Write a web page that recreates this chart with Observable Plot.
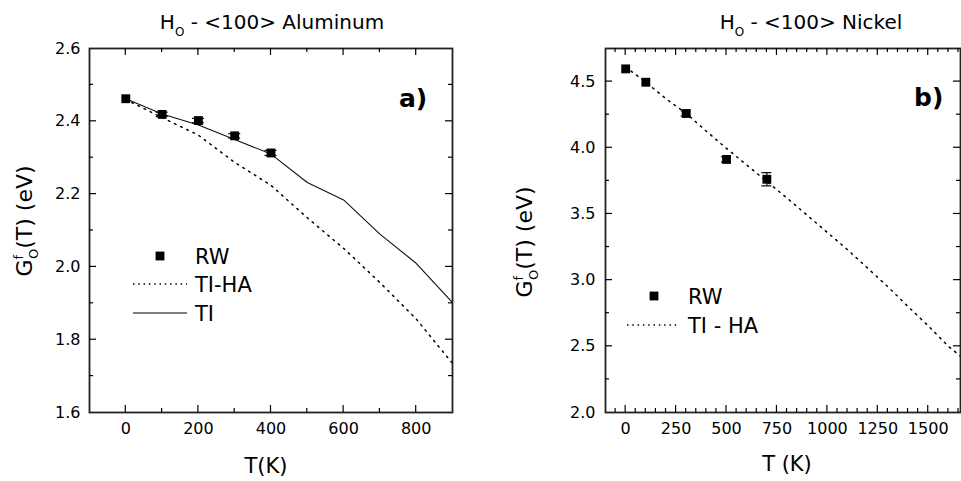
<!DOCTYPE html>
<html><head><meta charset="utf-8">
<script src="https://cdn.jsdelivr.net/npm/d3@7"></script>
<script src="https://cdn.jsdelivr.net/npm/@observablehq/plot@0.6"></script>
<style>
body{margin:0;background:#fff;width:961px;height:481px;overflow:hidden;position:relative;font-family:"DejaVu Sans",sans-serif}
#a,#b{position:absolute;top:0}
#a{left:0}#b{left:480px}
svg{display:block}
</style></head><body>
<div id="a"></div><div id="b"></div>
<script>
// ---- Panel a) Aluminum ----
const alT = [0, 100, 200, 300, 400];
const alRW = [2.462, 2.419, 2.402, 2.360, 2.313];
const alRWerr = [0, 0.006, 0.006, 0.006, 0.007];
const alCurveT = [0, 100, 200, 300, 400, 500, 600, 700, 800, 900];
const alTI = [2.462, 2.42, 2.39, 2.35, 2.31, 2.232, 2.184, 2.090, 2.010, 1.902];
const alTIHA = [2.46, 2.41, 2.362, 2.287, 2.224, 2.135, 2.051, 1.957, 1.857, 1.735];
const alXLabels = [0, 200, 400, 600, 800];
const alXMinor = [100, 300, 500, 700];
const alYLabels = [1.6, 1.8, 2.0, 2.2, 2.4, 2.6];
const alYMinor = [1.7, 1.9, 2.1, 2.3, 2.5];

// ---- Panel b) Nickel ----
const niT = [0, 100, 300, 500, 700];
const niRW = [4.596, 4.495, 4.259, 3.912, 3.762];
const niRWerr = [0, 0, 0.02, 0.02, 0.05];
const niCurveT = [0, 100, 200, 300, 400, 500, 600, 700, 800, 900, 1000, 1100, 1200, 1300, 1400, 1500, 1600, 1660];
const niTIHA = [4.61, 4.495, 4.37, 4.26, 4.125, 3.995, 3.87, 3.745, 3.62, 3.49, 3.36, 3.23, 3.09, 2.95, 2.80, 2.655, 2.50, 2.425];
const niXLabels = [0, 250, 500, 750, 1000, 1250, 1500];
const niXMinor = [-50, 50, 100, 150, 200, 300, 350, 400, 450, 550, 600, 650, 700, 800, 850, 900, 950, 1050, 1100, 1150, 1200, 1300, 1350, 1400, 1450, 1550, 1600, 1650];
const niYLabels = [2.0, 2.5, 3.0, 3.5, 4.0, 4.5];
const niYMinor = [2.25, 2.75, 3.25, 3.75, 4.25];

const DOT = "1.6,5.2";

function errMarks(data, capHalf) {
  const withErr = data.filter(d => d.e > 0);
  return [
    Plot.ruleX(withErr, {x: "T", y1: d => d.G - d.e, y2: d => d.G + d.e, stroke: "#000", strokeWidth: 1.2}),
    Plot.ruleY(withErr, {x1: "T", x2: "T", y: d => d.G + d.e, insetLeft: -capHalf, insetRight: -capHalf, stroke: "#000", strokeWidth: 1.2}),
    Plot.ruleY(withErr, {x1: "T", x2: "T", y: d => d.G - d.e, insetLeft: -capHalf, insetRight: -capHalf, stroke: "#000", strokeWidth: 1.2}),
    Plot.dot(data, {x: "T", y: "G", symbol: "square", r: 5.0, fill: "#000", stroke: null})
  ];
}

// inward ticks on all four sides, placed with the plot's own scales
function drawTicks(plot, xMaj, xMin, yMaj, yMin) {
  const sx = plot.scale("x"), sy = plot.scale("y");
  const [L, R] = sx.range, [B, T] = sy.range;
  const g = d3.select(plot).append("g").attr("stroke", "#000").attr("stroke-width", 1.2);
  const M = 7, m = 4;
  const xs = xMaj.map(v => [v, M]).concat(xMin.map(v => [v, m]));
  const ys = yMaj.map(v => [v, M]).concat(yMin.map(v => [v, m]));
  xs.forEach(([v, l]) => {
    const x = sx.apply(v);
    g.append("line").attr("x1", x).attr("x2", x).attr("y1", B).attr("y2", B - l);
    g.append("line").attr("x1", x).attr("x2", x).attr("y1", T).attr("y2", T + l);
  });
  ys.forEach(([v, l]) => {
    const y = sy.apply(v);
    g.append("line").attr("y1", y).attr("y2", y).attr("x1", L).attr("x2", L + l);
    g.append("line").attr("y1", y).attr("y2", y).attr("x1", R).attr("x2", R - l);
  });
}

function decorate(svg, o) {
  const g = d3.select(svg).append("g").attr("fill", "#000")
    .style("font-family", "'DejaVu Sans', sans-serif");
  // title
  const t = g.append("text").attr("x", o.titleX).attr("y", 29).attr("text-anchor", "middle").attr("font-size", 20);
  t.append("tspan").text("H");
  t.append("tspan").attr("dy", 7).attr("font-size", 12).text("O");
  t.append("tspan").attr("dy", -7).text(o.titleRest);
  // y label
  const yl = g.append("text").attr("transform", `translate(${o.ylX},${o.ylY}) rotate(-90)`)
    .attr("text-anchor", "middle").attr("font-size", 22);
  yl.append("tspan").text("G");
  yl.append("tspan").attr("dy", -9).attr("font-size", 13).text("f");
  yl.append("tspan").attr("dx", -4).attr("dy", 15).attr("font-size", 13).text("O");
  yl.append("tspan").attr("dy", -6).text("(T) (eV)");
  // x label
  g.append("text").attr("x", o.xlX).attr("y", o.xlY).attr("text-anchor", "middle").attr("font-size", 21).text(o.xLabel);
  // panel letter
  g.append("text").attr("x", o.letX).attr("y", o.letY).attr("text-anchor", "start")
    .attr("font-size", 25).attr("font-weight", "bold").text(o.letter);
  // legend
  o.legend.forEach(it => {
    if (it.kind === "square") {
      g.append("rect").attr("x", it.sx - 4.4).attr("y", it.y - 4.4).attr("width", 8.8).attr("height", 8.8);
    } else {
      g.append("line").attr("x1", it.x1).attr("x2", it.x2).attr("y1", it.y).attr("y2", it.y)
        .attr("stroke", "#000").attr("stroke-width", it.kind === "dot" ? 1.5 : 1.2)
        .attr("stroke-dasharray", it.kind === "dot" ? "1.5,3.8" : null);
    }
    g.append("text").attr("x", it.tx).attr("y", it.y + 7.8).attr("text-anchor", "start")
      .attr("font-size", 21).text(it.label);
  });
}

const common = {
  style: {fontFamily: "'DejaVu Sans', sans-serif", fontSize: "16px", color: "#000", background: "#fff"}
};

// Panel a
const fa = alT.map((t, i) => ({T: t, G: alRW[i], e: alRWerr[i]}));
const ca = alCurveT.map((t, i) => ({T: t, ti: alTI[i], ha: alTIHA[i]}));
const plotA = Plot.plot({
  ...common,
  width: 480, height: 481,
  marginLeft: 89, marginRight: 28, marginTop: 48, marginBottom: 69,
  x: {domain: [-100, 900]},
  y: {domain: [1.6, 2.6]},
  marks: [
    Plot.axisX({ticks: alXLabels, tickSize: 0, tickPadding: 10, label: null, tickFormat: d3.format("d"), fontSize: 16}),
    Plot.axisY({ticks: alYLabels, tickSize: 0, tickPadding: 9, label: null, tickFormat: d3.format(".1f"), fontSize: 16}),
    Plot.line(ca, {x: "T", y: "ha", stroke: "#000", strokeWidth: 1.5, strokeDasharray: DOT}),
    Plot.line(ca, {x: "T", y: "ti", stroke: "#111", strokeWidth: 1.1}),
    ...errMarks(fa, 6),
    Plot.frame({stroke: "#222", strokeWidth: 1.8})
  ]
});
document.getElementById("a").append(plotA);
drawTicks(plotA, alXLabels, alXMinor, alYLabels.slice(1, -1), alYMinor);
decorate(plotA, {
  titleX: 272, titleRest: " - <100> Aluminum",
  ylX: 32, ylY: 221,
  xlX: 266, xlY: 473, xLabel: "T(K)",
  letX: 399, letY: 107, letter: "a)",
  legend: [
    {kind: "square", sx: 160, y: 256, tx: 195, label: "RW"},
    {kind: "dot", x1: 133, x2: 187, y: 284, tx: 195, label: "TI-HA"},
    {kind: "solid", x1: 133, x2: 187, y: 313, tx: 195, label: "TI"}
  ]
});

// Panel b
const fb = niT.map((t, i) => ({T: t, G: niRW[i], e: niRWerr[i]}));
const cb = niCurveT.map((t, i) => ({T: t, ha: niTIHA[i]}));
const plotB = Plot.plot({
  ...common,
  width: 481, height: 481,
  marginLeft: 125, marginRight: 1, marginTop: 48, marginBottom: 69,
  x: {domain: [-100, 1660]},
  y: {domain: [2.0, 4.75]},
  marks: [
    Plot.axisX({ticks: niXLabels, tickSize: 0, tickPadding: 10, label: null, tickFormat: d3.format("d"), fontSize: 16}),
    Plot.axisY({ticks: niYLabels, tickSize: 0, tickPadding: 10, label: null, tickFormat: d3.format(".1f"), fontSize: 16}),
    Plot.line(cb, {x: "T", y: "ha", stroke: "#000", strokeWidth: 1.5, strokeDasharray: DOT}),
    ...errMarks(fb, 5),
    Plot.frame({stroke: "#222", strokeWidth: 1.8})
  ]
});
document.getElementById("b").append(plotB);
drawTicks(plotB, niXLabels, niXMinor, niYLabels.slice(1), niYMinor);
decorate(plotB, {
  titleX: 331, titleRest: " - <100> Nickel",
  ylX: 52, ylY: 242,
  xlX: 307, xlY: 471, xLabel: "T (K)",
  letX: 434, letY: 106, letter: "b)",
  legend: [
    {kind: "square", sx: 174, y: 296, tx: 208, label: "RW"},
    {kind: "dot", x1: 147, x2: 200, y: 325, tx: 208, label: "TI - HA"}
  ]
});
</script>
</body></html>
